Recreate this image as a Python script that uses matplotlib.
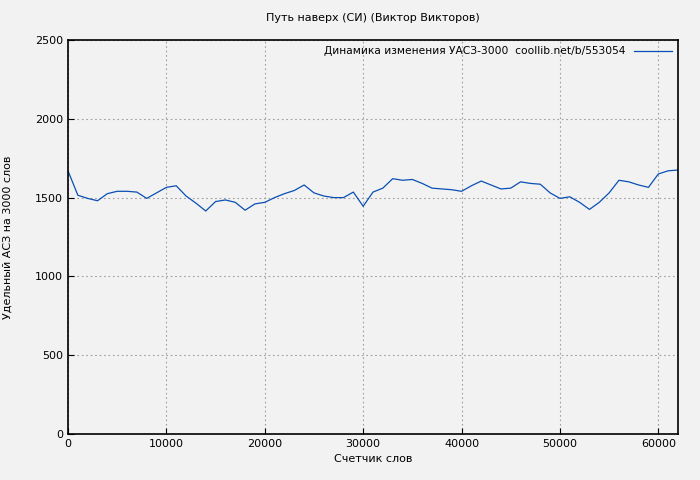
import matplotlib
matplotlib.use('Agg')
import matplotlib.pyplot as plt

words = list(range(0, 63000, 1000))
asz = [1670, 1515, 1495, 1480, 1525, 1540, 1540, 1535, 1495, 1530,
       1565, 1575, 1510, 1465, 1415, 1475, 1485, 1470, 1420, 1460,
       1470, 1500, 1525, 1545, 1580, 1530, 1510, 1500, 1500, 1535,
       1445, 1535, 1560, 1620, 1610, 1615, 1590, 1560, 1555, 1550,
       1540, 1575, 1605, 1580, 1555, 1560, 1600, 1590, 1585, 1530,
       1495, 1505, 1470, 1425, 1470, 1530, 1610, 1600, 1580, 1565,
       1650, 1670, 1675]

BG = '#f2f2f2'
plt.rcParams['font.family'] = ['DejaVu Sans']
plt.rcParams['font.size'] = 8

fig = plt.figure(figsize=(7, 4.8), dpi=100, facecolor=BG)
ax = fig.add_axes([68 / 700, 46 / 480, 610 / 700, 394 / 480], facecolor=BG)
ax.plot(words, asz, color='#0a4fb4', linewidth=0.9,
        label='Динамика изменения УАСЗ-3000  coollib.net/b/553054')
ax.set_xlim(0, 62000)
ax.set_ylim(0, 2500)
ax.set_xticks(range(0, 62000, 10000))
ax.set_yticks(range(0, 2501, 500))
ax.grid(color='#a0a0a0', linestyle=(0, (1.5, 2.5)), linewidth=0.8)
ax.tick_params(direction='in', length=4, colors='black')
for s in ax.spines.values():
    s.set_linewidth(1.2)
ax.set_xlabel('Счетчик слов', labelpad=4)
ax.set_ylabel('Удельный АСЗ на 3000 слов', labelpad=16)
ax.set_title('Путь наверх (СИ) (Виктор Викторов)', fontsize=8, pad=14)
leg = ax.legend(loc='upper right', frameon=False, markerfirst=False,
                handlelength=3.5, fontsize=7.7, borderaxespad=0.2)
fig.savefig('out.png', facecolor=BG)
